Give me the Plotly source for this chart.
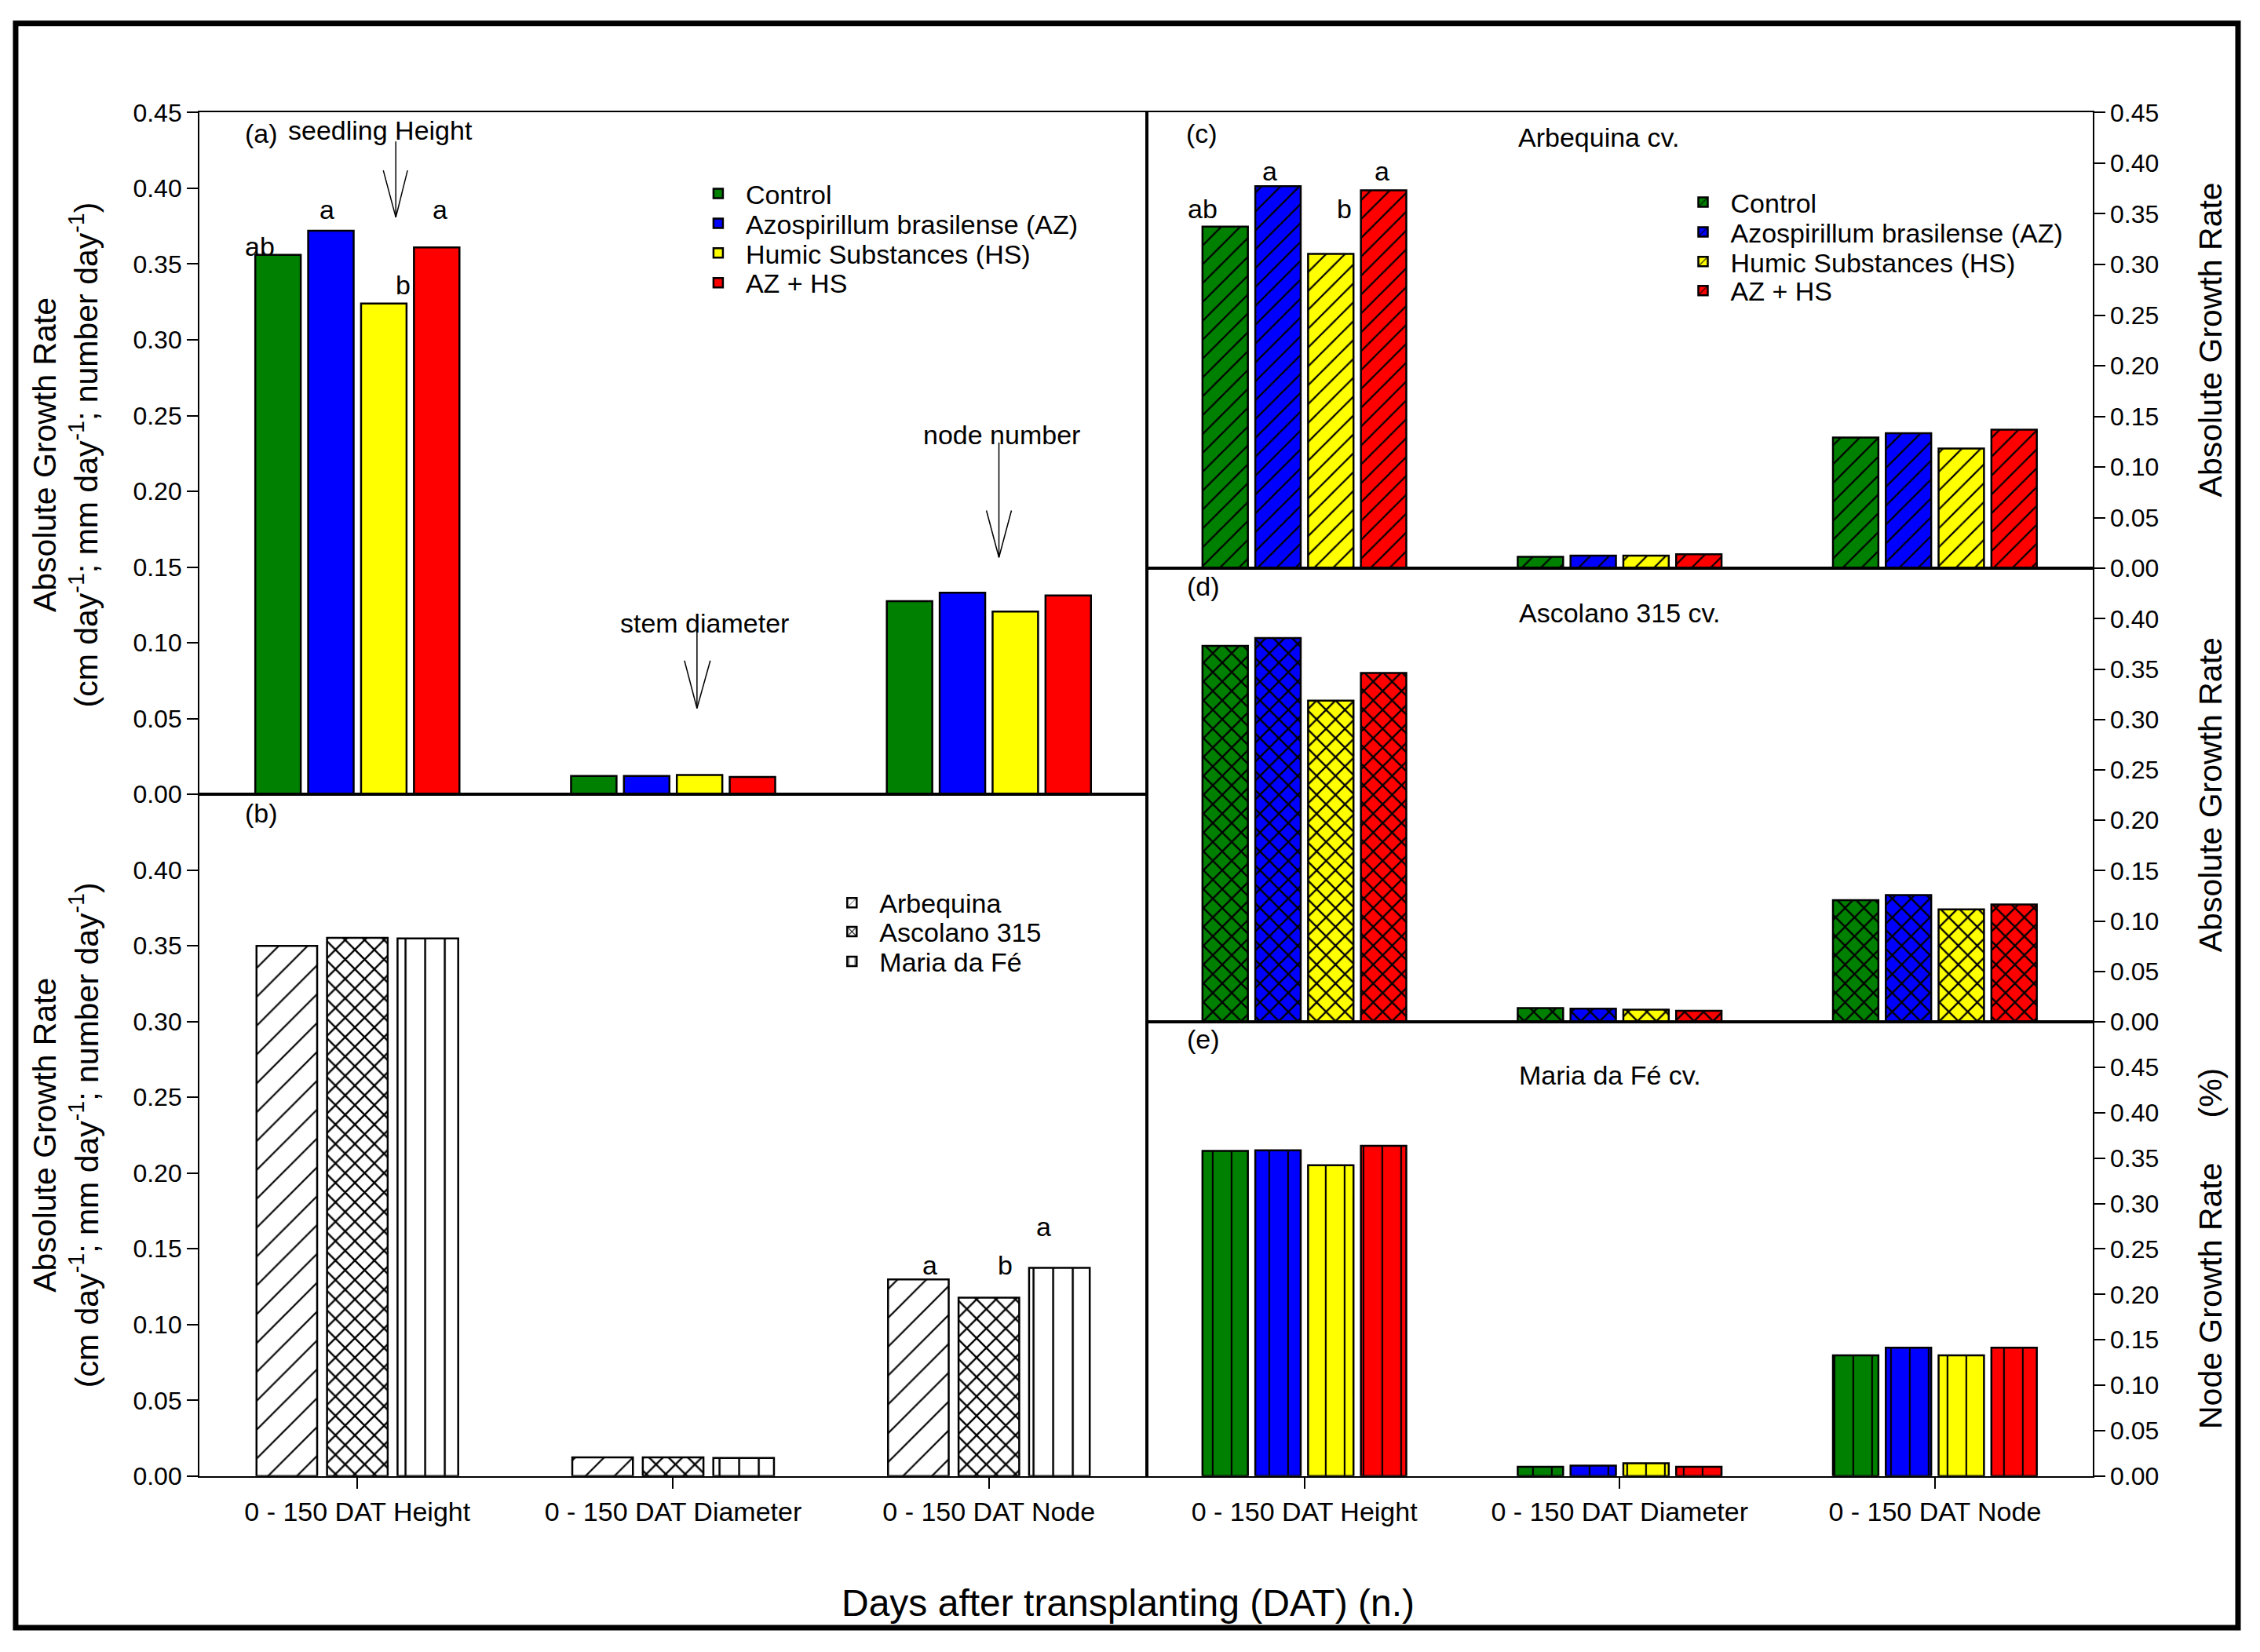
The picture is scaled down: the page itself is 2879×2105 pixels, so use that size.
import plotly.graph_objects as go

# categorias do eixo x
groups = ["0 - 150 DAT Height", "0 - 150 DAT Diameter", "0 - 150 DAT Node"]

# (a) tratamentos, media das cultivares
a_control = [0.356, 0.0121, 0.1275]
a_az = [0.372, 0.0121, 0.1330]
a_hs = [0.324, 0.0128, 0.1206]
a_azhs = [0.361, 0.0114, 0.1313]

# (b) cultivares
b_arbequina = [0.350, 0.0124, 0.1298]
b_ascolano = [0.3553, 0.0124, 0.1178]
b_maria = [0.3549, 0.0120, 0.1375]

# (c) Arbequina
c_control = [0.3374, 0.0114, 0.1292]
c_az = [0.3773, 0.0125, 0.1334]
c_hs = [0.3104, 0.0125, 0.1183]
c_azhs = [0.3732, 0.0140, 0.1370]

# (d) Ascolano 315
d_control = [0.3731, 0.0137, 0.1208]
d_az = [0.3809, 0.0131, 0.1257]
d_hs = [0.3188, 0.0120, 0.1115]
d_azhs = [0.3462, 0.0109, 0.1164]

# (e) Maria da Fe
e_control = [0.3580, 0.0103, 0.1329]
e_az = [0.3586, 0.0115, 0.1414]
e_hs = [0.3422, 0.0140, 0.1329]
e_azhs = [0.3635, 0.0103, 0.1414]

trt_names = ["Control", "Azospirillum brasilense (AZ)", "Humic Substances (HS)", "AZ + HS"]
trt_colors = ["#008000", "#0000FF", "#FFFF00", "#FF0000"]
cv_names = ["Arbequina", "Ascolano 315", "Maria da Fé"]

FONT = "Liberation Sans, Arial, sans-serif"

# tamanho da figura; conversao de pixels da referencia para fracoes do papel
# (calibrado a partir das rodadas anteriores)
W, H = 2863, 2100
SX, OX = 0.9965, 8
SY, OY = 1.0136, 26.5

def fx(x):
    return (x * SX - OX) / W

def fy(y):
    return 1 - (y * SY - OY) / H

fig = go.Figure()

# uma legenda por linha para controlar o espacamento
leg_a = ["legend", "legend2", "legend3", "legend4"]
leg_c = ["legend5", "legend6", "legend7", "legend8"]
leg_b = ["legend9", "legend10", "legend11"]

def add_bar(y, name, color, xa, ya, legend, show, shape=None, size=17, solidity=0.12):
    pattern = dict(shape="")
    if shape:
        pattern = dict(shape=shape, fgcolor="black", bgcolor=color, size=size,
                       solidity=solidity, fillmode="replace")
    fig.add_trace(go.Bar(x=groups, y=y, name=name, xaxis=xa, yaxis=ya,
                         legend=legend, showlegend=show,
                         marker=dict(color=color, line=dict(color="black", width=2.5),
                                     pattern=pattern)))

# (a)
for vals, nm, col, lg in zip([a_control, a_az, a_hs, a_azhs], trt_names, trt_colors, leg_a):
    add_bar(vals, nm, col, "x", "y", lg, True)

# (b)
for vals, nm, shp, sz, sol, lg in zip([b_arbequina, b_ascolano, b_maria], cv_names,
                                      ["/", "x", "|"], [26, 17.5, 25], [0.085, 0.25, 0.1], leg_b):
    add_bar(vals, nm, "white", "x2", "y2", lg, True, shp, sz, sol)

# (c)
for vals, nm, col, lg in zip([c_control, c_az, c_hs, c_azhs], trt_names, trt_colors, leg_c):
    add_bar(vals, nm, col, "x3", "y3", lg, True, "/", 17, 0.13)

# (d)
for vals, nm, col in zip([d_control, d_az, d_hs, d_azhs], trt_names, trt_colors):
    add_bar(vals, nm, col, "x4", "y4", "legend", False, "x", 17, 0.25)

# (e)
for vals, nm, col in zip([e_control, e_az, e_hs, e_azhs], trt_names, trt_colors):
    add_bar(vals, nm, col, "x5", "y5", "legend", False, "|", 24, 0.09)

xL = [fx(255), fx(1466)]
xR = [fx(1466), fx(2675)]
ytickfont = dict(family=FONT, size=32, color="black")
xtickfont = dict(family=FONT, size=34, color="black")

def xax(domain, anchor, labels):
    return dict(domain=domain, anchor=anchor, range=[-0.5, 2.5], type="category",
                showline=True, linecolor="black", linewidth=2, mirror=True,
                showticklabels=labels, ticks="outside" if labels else "",
                ticklen=14, tickwidth=2, tickcolor="black", tickfont=xtickfont,
                showgrid=False, zeroline=False)

def yax(domain, anchor, rng, tvals, side):
    return dict(domain=domain, anchor=anchor, range=rng, tickvals=tvals, tickformat=".2f",
                side=side, showline=True, linecolor="black", linewidth=2, mirror=True,
                ticks="outside", ticklen=14, tickwidth=2, tickcolor="black",
                tickfont=ytickfont, showgrid=False, zeroline=False)

t45 = [i * 0.05 for i in range(10)]
t40 = [i * 0.05 for i in range(9)]

fig.update_layout(
    width=W, height=H,
    margin=dict(l=0, r=0, t=0, b=0),
    paper_bgcolor="white", plot_bgcolor="white",
    barmode="group", bargap=0.33, bargroupgap=0.14,
    font=dict(family=FONT, size=32, color="black"),
    xaxis=xax(xL, "y", False),
    yaxis=yax([fy(1016), fy(144)], "x", [0, 0.45], t45, "left"),
    xaxis2=xax(xL, "y2", True),
    yaxis2=yax([fy(1888), fy(1016)], "x2", [0, 0.45], t40, "left"),
    xaxis3=xax(xR, "y3", False),
    yaxis3=yax([fy(727), fy(144)], "x3", [0, 0.45], t45, "right"),
    xaxis4=xax(xR, "y4", False),
    yaxis4=yax([fy(1307), fy(727)], "x4", [0, 0.45], t40, "right"),
    xaxis5=xax(xR, "y5", True),
    yaxis5=yax([fy(1888), fy(1307)], "x5", [0, 0.50], t45, "right"),
)

# posicao das linhas de legenda (pixels da referencia)
rows = [(leg_a, 883, [248, 286, 324, 362]),
        (leg_c, 2142, [259, 297, 335, 372]),
        (leg_b, 1054, [1155, 1192, 1230])]
for names, lx, ys in rows:
    for nm, ly in zip(names, ys):
        fig.update_layout({nm: dict(x=fx(lx), y=fy(ly), xanchor="left", yanchor="middle",
                                    bgcolor="rgba(0,0,0,0)", itemwidth=60,
                                    font=dict(family=FONT, size=34, color="black"))})

# textos
def note(x, y, text, size=34, angle=0):
    fig.add_annotation(x=fx(x), y=fy(y), xref="paper", yref="paper", text=text, showarrow=False,
                       textangle=angle, font=dict(family=FONT, size=size, color="black"),
                       xanchor="center", yanchor="middle")

note(334, 171, "(a)")
note(486, 167, "seedling Height")
note(901, 797, "stem diameter")
note(1280, 556, "node number")
note(332, 315, "ab")
note(418, 268, "a")
note(515, 364, "b")
note(562, 268, "a")

note(334, 1040, "(b)")
note(1189, 1618, "a")
note(1285, 1618, "b")
note(1334, 1569, "a")

note(1536, 171, "(c)")
note(2044, 176, "Arbequina cv.")
note(1537, 267, "ab")
note(1623, 219, "a")
note(1719, 267, "b")
note(1767, 219, "a")

note(1538, 750, "(d)")
note(2070, 784, "Ascolano 315 cv.")
note(1538, 1329, "(e)")
note(2058, 1375, "Maria da Fé cv.")

ytitle = "Absolute Growth Rate<br>(cm day<sup>-1</sup>; mm day<sup>-1</sup>; number day<sup>-1</sup>)"
note(84, 582, ytitle, 41, -90)
note(84, 1452, ytitle, 41, -90)
note(2826, 435, "Absolute Growth Rate", 41, -90)
note(2826, 1017, "Absolute Growth Rate", 41, -90)
note(2826, 1597, "Node Growth Rate" + "\u00a0" * 5 + "(%)", 41, -90)
note(1442, 2050, "Days after transplanting (DAT) (n.)", 48)

# setas: x, topo, ponta, base do V, V esquerda, V direita
arrows = [
    (506, 181, 278, 218, 490, 521),
    (891, 804, 906, 845, 875, 908),
    (1277, 566, 713, 653, 1261, 1293),
]
for x, y0, y1, yv, xl, xr in arrows:
    for (p0, p1) in [((x, y0), (x, y1)), ((xl, yv), (x, y1)), ((xr, yv), (x, y1))]:
        fig.add_shape(type="line", xref="paper", yref="paper",
                      x0=fx(p0[0]), y0=fy(p0[1]), x1=fx(p1[0]), y1=fy(p1[1]),
                      line=dict(color="black", width=1.5))

# moldura externa
fig.add_shape(type="rect", xref="paper", yref="paper",
              x0=fx(20), y0=fy(2082), x1=fx(2861), y1=fy(30),
              line=dict(color="black", width=7))

fig.write_html("out.html")
